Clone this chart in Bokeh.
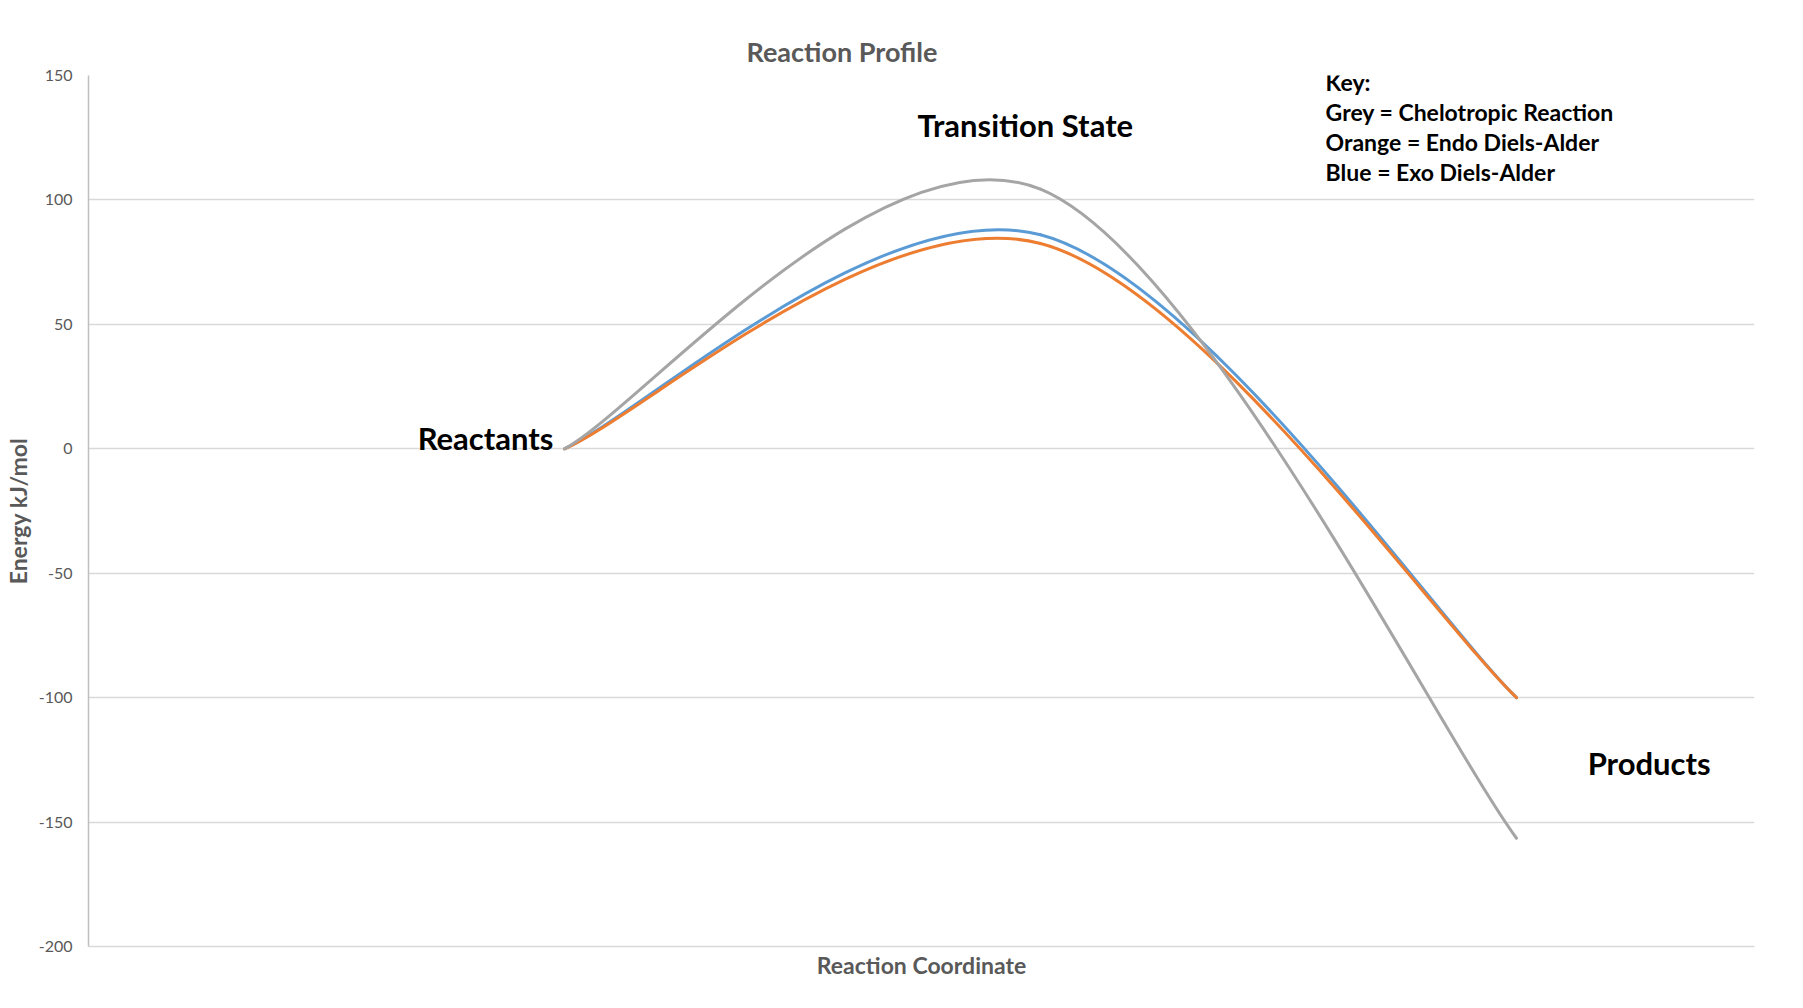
from bokeh.plotting import figure
from bokeh.models import Range1d, FixedTicker, Label, ColumnDataSource, PrintfTickFormatter
from bokeh.embed import file_html
from bokeh.resources import INLINE

# ---- data ----
stages = ["Reactants", "Transition State", "Products"]
stage_slot = [2, 4, 6]          # position of each stage among the 8 category slots
n_slots = 8
grey_energy = [0, 104.3, -156.5]     # Chelotropic
orange_energy = [0, 82.5, -100]      # Endo Diels-Alder
blue_energy = [0, 86.0, -100]        # Exo Diels-Alder
y_ticks = [-200, -150, -100, -50, 0, 50, 100, 150]
key_lines = ["Key:", "Grey = Chelotropic Reaction", "Orange = Endo Diels-Alder", "Blue = Exo Diels-Alder"]

FONT = "Lato"
GREY_TXT = "#595959"


def smoothed(xs, ys):
    """Bezier segments with Excel-style (Catmull-Rom) smoothing control points."""
    P = list(zip(xs, ys))
    n = len(P)
    d = dict(x0=[], y0=[], x1=[], y1=[], cx0=[], cy0=[], cx1=[], cy1=[])
    for i in range(n - 1):
        p0 = P[i - 1] if i > 0 else P[i]
        p1, p2 = P[i], P[i + 1]
        p3 = P[i + 2] if i + 2 < n else P[i + 1]
        d["x0"].append(p1[0]); d["y0"].append(p1[1])
        d["x1"].append(p2[0]); d["y1"].append(p2[1])
        d["cx0"].append(p1[0] + (p2[0] - p0[0]) / 6.0)
        d["cy0"].append(p1[1] + (p2[1] - p0[1]) / 6.0)
        d["cx1"].append(p2[0] - (p3[0] - p1[0]) / 6.0)
        d["cy1"].append(p2[1] - (p3[1] - p1[1]) / 6.0)
    return ColumnDataSource(d)


p = figure(frame_width=1666, frame_height=871, output_backend="svg", toolbar_location=None,
           x_range=Range1d(0, n_slots - 1), y_range=Range1d(y_ticks[0], y_ticks[-1]),
           min_border_left=87, min_border_right=37, min_border_top=75, min_border_bottom=46)
p.outline_line_color = None
p.background_fill_color = "white"
p.border_fill_color = "white"

# title
p.title.text = "Reaction Profile"
p.title.text_font = FONT
p.title.text_font_size = "27px"
p.title.text_color = GREY_TXT
p.title.text_font_style = "bold"
p.title.align = "left"
p.title.offset = 658
p.title.standoff = 16

# y axis
p.yaxis.ticker = FixedTicker(ticks=y_ticks)
p.yaxis.formatter = PrintfTickFormatter(format="%d")
p.yaxis.axis_label = "Energy kJ/mol"
p.yaxis.axis_label_text_font = FONT
p.yaxis.axis_label_text_font_size = "23px"
p.yaxis.axis_label_text_font_style = "bold"
p.yaxis.axis_label_text_color = GREY_TXT
p.yaxis.axis_label_standoff = 4
p.yaxis.major_label_text_font = FONT
p.yaxis.major_label_text_font_size = "16px"
p.yaxis.major_label_text_color = GREY_TXT
p.yaxis.major_label_standoff = 16
p.yaxis.major_tick_line_color = None
p.yaxis.minor_tick_line_color = None
p.yaxis.major_tick_out = 0
p.yaxis.major_tick_in = 0
p.yaxis.minor_tick_out = 0
p.yaxis.minor_tick_in = 0
p.yaxis.axis_line_color = "#BFBFBF"
p.yaxis.axis_line_width = 1.5

# x axis
p.xaxis.ticker = FixedTicker(ticks=[])
p.xaxis.axis_label = "Reaction Coordinate"
p.xaxis.axis_label_text_font = FONT
p.xaxis.axis_label_text_font_size = "23px"
p.xaxis.axis_label_text_font_style = "bold"
p.xaxis.axis_label_text_color = GREY_TXT
p.xaxis.axis_label_standoff = 4
p.xaxis.major_label_standoff = 0
p.xaxis.major_tick_line_color = None
p.xaxis.minor_tick_line_color = None
p.xaxis.major_tick_out = 0
p.xaxis.major_tick_in = 0
p.xaxis.minor_tick_out = 0
p.xaxis.minor_tick_in = 0
p.xaxis.axis_line_color = "#D9D9D9"
p.xaxis.axis_line_width = 1.5

p.xgrid.grid_line_color = None
p.ygrid.grid_line_color = "#D9D9D9"
p.ygrid.grid_line_width = 1.5

for energy, color in [(blue_energy, "#5B9BD5"), (orange_energy, "#ED7D31"), (grey_energy, "#A5A5A5")]:
    src = smoothed(stage_slot, energy)
    p.bezier(x0="x0", y0="y0", x1="x1", y1="y1", cx0="cx0", cy0="cy0", cx1="cx1", cy1="cy1",
             source=src, line_color=color, line_width=3, line_cap="round")

# annotations
def add_label(x, y, text, size, bold=True):
    p.add_layout(Label(x=x, y=y, text=text, text_font=FONT, text_font_size=size,
                       text_font_style="bold" if bold else "normal", text_color="black",
                       text_align="left", text_baseline="middle"))

add_label(1.383, 4.5, stages[0], "31px")
add_label(3.483, 130.3, stages[1], "31px")
add_label(6.299, -126.1, stages[2], "31px")
for i, line in enumerate(key_lines):
    add_label(5.198, 147.3 - 12.0 * i, line, "23px")

open("out.html", "w").write(file_html(p, INLINE))
